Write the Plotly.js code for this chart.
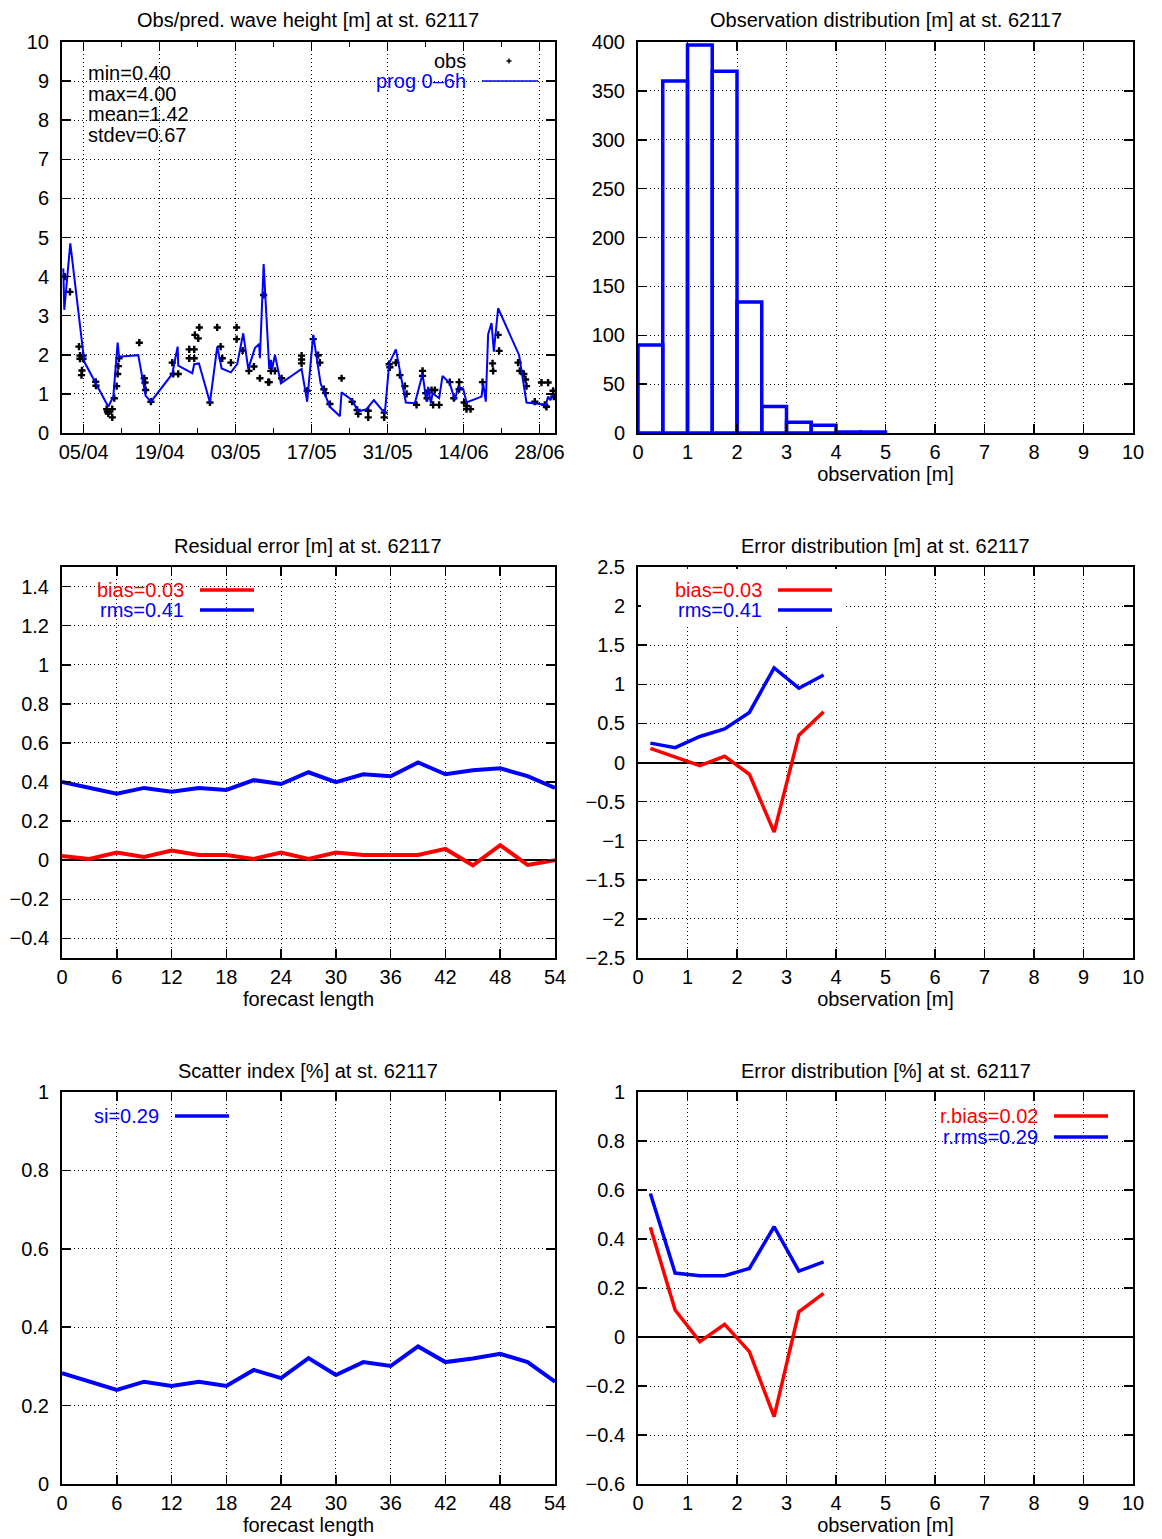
<!DOCTYPE html>
<html><head><meta charset="utf-8">
<script src="https://cdn.plot.ly/plotly-3.0.1.min.js"></script>
<style>html,body{margin:0;padding:0;background:#fff}#chart{width:1162px;height:1539px}</style>
</head><body><div id="chart"></div>
<script>
// ---------------- data ----------------
const station = "62117";
// time series: days since 01/04 00:00
const progDay = [0.24,0.42,1.53,4.11,8.53,9.45,10.26,10.5,14.05,15.41,16.39,20.31,21.31,21.42,24.0,24.36,25.23,27.26,28.6,29.41,31.12,32.28,33.39,34.31,35.54,36.33,36.46,37.15,38.18,38.49,38.7,39.23,40.33,44.14,45.17,46.28,47.64,49.36,51.2,51.51,53.46,54.57,56.11,57.46,59.48,60.28,61.51,63.35,65.01,66.43,67.16,67.46,67.96,68.27,69.48,70.11,71.45,72.38,72.98,73.9,74.53,77.29,77.59,78.08,78.51,79.14,79.56,80.35,84.22,85.58,88.03,89.13,89.56,90.0,90.6];
const progHs  = [4.21,3.15,4.85,1.82,0.67,0.93,2.31,1.95,1.99,0.95,0.80,1.51,2.21,1.72,1.53,1.76,1.78,0.78,2.21,1.65,1.55,1.76,2.55,1.64,2.17,2.28,1.91,4.32,1.64,1.87,1.62,2.0,1.27,1.64,0.80,2.51,1.27,0.67,0.43,1.04,0.84,0.55,0.61,0.84,0.50,1.78,2.14,0.78,0.76,1.51,0.80,1.18,0.76,1.02,0.89,1.46,1.27,0.84,1.18,1.14,0.78,0.93,1.27,0.80,2.53,2.81,2.08,3.19,1.99,0.78,0.74,0.72,0.93,0.84,1.02];
const obsDay = [0.5,1.47,3.13,3.31,3.31,3.87,3.87,3.68,3.59,6.21,6.26,8.23,8.53,8.38,9.26,9.26,9.63,10.07,10.26,10.37,10.5,14.24,15.16,15.29,15.41,16.39,20.31,20.5,21.42,23.44,24.36,23.44,24.36,24.49,25.1,25.29,27.26,28.6,29.23,29.52,31.12,32.17,32.17,33.28,34.44,35.36,36.46,37.15,37.99,38.18,38.49,39.23,40.46,44.14,44.14,44.14,45.17,46.28,47.2,47.51,48.25,48.56,49.36,51.51,53.46,54.38,54.57,56.41,56.41,59.36,59.36,60.28,60.41,61.51,62.25,63.17,63.48,65.32,66.43,66.43,67.03,67.27,68.08,68.69,68.38,69.48,71.45,72.19,73.17,73.17,74.09,74.53,75.27,74.53,77.48,79.32,79.43,80.35,80.53,84.03,84.35,85.08,85.4,85.58,87.11,88.34,89.56,88.95,89.26,90.48,90.61];
const obsHs  = [4.0,3.61,2.21,1.98,1.90,1.98,1.90,1.60,1.48,1.31,1.21,0.61,0.50,0.55,0.61,0.40,0.89,1.20,1.51,1.71,1.91,2.31,1.40,1.29,1.10,0.80,1.80,1.51,1.51,2.14,2.14,1.91,1.91,2.51,2.42,2.70,0.78,2.70,2.21,1.91,1.80,2.70,2.40,2.11,1.59,1.70,1.40,3.53,1.30,1.30,1.59,1.59,1.40,1.98,1.88,1.78,1.08,2.40,1.99,1.80,1.12,1.02,0.74,1.40,0.80,0.59,0.49,0.57,0.40,0.52,0.40,1.76,1.68,1.80,1.48,1.20,1.00,0.72,1.59,1.46,1.02,0.89,1.10,1.10,0.72,0.72,1.30,0.89,1.30,1.12,0.78,0.61,0.61,0.69,1.30,1.78,1.59,2.51,2.10,1.80,1.59,1.51,1.37,1.20,0.80,1.29,1.29,0.72,0.67,1.08,0.93];
const statLines = ["min=0.40","max=4.00","mean=1.42","stdev=0.67"];

// histogram
const histCenters = [0.25,0.75,1.25,1.75,2.25,2.75,3.25,3.75,4.25,4.75];
const histCounts  = [90,360,397,370,134,27,11,8,1,1];

// residual error vs forecast length
const fcLen   = [0,3,6,9,12,15,18,21,24,27,30,33,36,39,42,45,48,51,54];
const resBias = [0.022,0.007,0.04,0.017,0.05,0.027,0.027,0.007,0.04,0.007,0.04,0.027,0.027,0.027,0.058,-0.026,0.077,-0.024,0.0];
const resRms  = [0.40,0.37,0.34,0.37,0.35,0.37,0.36,0.41,0.39,0.45,0.40,0.44,0.43,0.50,0.44,0.46,0.47,0.43,0.37];
const scatterSi = [0.283,0.262,0.240,0.261,0.250,0.261,0.250,0.291,0.270,0.321,0.278,0.311,0.301,0.351,0.311,0.320,0.332,0.311,0.261];

// error distribution vs observation
const obsBins = [0.25,0.75,1.25,1.75,2.25,2.75,3.25,3.75];
const errBias = [0.18,0.07,-0.04,0.08,-0.15,-0.89,0.35,0.65];
const errRms  = [0.248,0.19,0.333,0.43,0.64,1.21,0.95,1.12];
const relBias = [0.448,0.11,-0.019,0.052,-0.06,-0.325,0.103,0.178];
const relRms  = [0.586,0.261,0.25,0.25,0.28,0.45,0.269,0.307];

const keyBiasM = "bias=0.03", keyRmsM = "rms=0.41", keySi = "si=0.29", keyRBias = "r.bias=0.02", keyRRms = "r.rms=0.29";

// ---------------- helpers ----------------
const W = 1162, H = 1539;
const F = "Liberation Sans, Arial, sans-serif";
const FS = 20;
const t0 = Date.UTC(2013, 3, 1);
const toDate = d => new Date(t0 + d * 86400000).toISOString().replace('T',' ').slice(0,19);
const px = v => v / W, py = v => 1 - v / H;

const box = {
  tl:[62,555,42,433], tr:[638,1133,42,433],
  ml:[62,555,567,958], mr:[638,1133,567,958],
  bl:[62,555,1092,1484], br:[638,1133,1092,1484]
};
const dom = b => ({x:[px(b[0]), px(b[1])], y:[py(b[3]), py(b[2])]});

const RED = "#ff0000", BLUE = "#0000ff";

function ax(extra) {
  return Object.assign({
    showline:true, linecolor:'black', linewidth:2, mirror:'allticks',
    ticks:'inside', ticklen:9, tickwidth:1.5, tickcolor:'black',
    showgrid:true, gridcolor:'#000', griddash:'1px,3px', gridwidth:1,
    zeroline:false, tickfont:{family:F, size:FS, color:'black'},
    fixedrange:true
  }, extra);
}
const yax = extra => ax(Object.assign({ticklabelstandoff:7}, extra));

const traces = [
  {x:obsDay.map(toDate), y:obsHs, xaxis:'x', yaxis:'y', type:'scatter', mode:'markers',
   marker:{symbol:'cross', size:6, color:'black', line:{width:0}}, name:'obs'},
  {x:progDay.map(toDate), y:progHs, xaxis:'x', yaxis:'y', type:'scatter', mode:'lines',
   line:{color:BLUE, width:2}, name:'prog 0–6h'},
  {x:histCenters, y:histCounts, xaxis:'x2', yaxis:'y2', type:'bar', width:0.5,
   marker:{color:'rgba(0,0,0,0)', line:{color:BLUE, width:3.5}}, name:'obs dist'},
  {x:fcLen, y:resBias, xaxis:'x3', yaxis:'y3', type:'scatter', mode:'lines', line:{color:RED, width:4}, name:'bias'},
  {x:fcLen, y:resRms, xaxis:'x3', yaxis:'y3', type:'scatter', mode:'lines', line:{color:BLUE, width:4}, name:'rms'},
  {x:obsBins, y:errBias, xaxis:'x4', yaxis:'y4', type:'scatter', mode:'lines', line:{color:RED, width:3.5}, name:'bias'},
  {x:obsBins, y:errRms, xaxis:'x4', yaxis:'y4', type:'scatter', mode:'lines', line:{color:BLUE, width:3.5}, name:'rms'},
  {x:fcLen, y:scatterSi, xaxis:'x5', yaxis:'y5', type:'scatter', mode:'lines', line:{color:BLUE, width:4}, name:'si'},
  {x:obsBins, y:relBias, xaxis:'x6', yaxis:'y6', type:'scatter', mode:'lines', line:{color:RED, width:3.5}, name:'r.bias'},
  {x:obsBins, y:relRms, xaxis:'x6', yaxis:'y6', type:'scatter', mode:'lines', line:{color:BLUE, width:3.5}, name:'r.rms'}
];

const ann = [], shapes = [];
function text(x, y, t, opts) {
  ann.push(Object.assign({xref:'paper', yref:'paper', x:px(x), y:py(y), text:t, showarrow:false,
    xanchor:'center', yanchor:'middle', font:{family:F, size:FS, color:'black'}}, opts || {}));
}
function key(xr, y, t, color, x0, x1, w) {
  text(xr, y, t, {xanchor:'right', font:{family:F, size:FS, color:color}});
  shapes.push({type:'line', xref:'paper', yref:'paper', x0:px(x0), x1:px(x1), y0:py(y), y1:py(y),
    line:{color:color, width:w}});
}
function keyBg(x0, x1, y0, y1) {
  shapes.push({type:'rect', xref:'paper', yref:'paper', x0:px(x0), x1:px(x1), y0:py(y1), y1:py(y0),
    fillcolor:'white', line:{width:0}, layer:'above'});
}

// panel titles
text(308, 20, "Obs/pred. wave height [m] at st. " + station);
text(886, 20, "Observation distribution [m] at st. " + station);
text(308, 546, "Residual error [m] at st. " + station);
text(886, 546, "Error distribution [m] at st. " + station);
text(308, 1071, "Scatter index [%] at st. " + station);
text(886, 1071, "Error distribution [%] at st. " + station);

// stats
statLines.forEach((s, i) => text(86, 73 + i * 20.7, s, {xanchor:'left'}));

// top-left key
text(468, 61, "obs", {xanchor:'right'});
shapes.push({type:'line', xref:'paper', yref:'paper', x0:px(506.5), x1:px(511.5), y0:py(61), y1:py(61), line:{color:'black', width:1.5}});
shapes.push({type:'line', xref:'paper', yref:'paper', x0:px(509), x1:px(509), y0:py(58.5), y1:py(63.5), line:{color:'black', width:1.5}});
key(468, 81, "prog 0–6h", BLUE, 482, 538, 1.5);

// other keys
keyBg(641, 843, 569, 625);
key(186, 590, keyBiasM, RED, 200, 254, 3.5);
key(186, 610, keyRmsM, BLUE, 200, 254, 3.5);
key(764, 590, keyBiasM, RED, 778, 832, 3.5);
key(764, 610, keyRmsM, BLUE, 778, 832, 3.5);
key(161, 1116, keySi, BLUE, 175, 229, 3.5);
key(1040, 1116, keyRBias, RED, 1054, 1108, 3.5);
key(1040, 1137, keyRRms, BLUE, 1054, 1108, 3.5);

const axTitle = t => ({text:t, font:{family:F, size:FS, color:'black'}, standoff:0});
const zl = {zeroline:true, zerolinecolor:'black', zerolinewidth:2};

const layout = {
  width:W, height:H, margin:{l:0, r:0, t:0, b:0}, paper_bgcolor:'white', plot_bgcolor:'white',
  showlegend:false, font:{family:F, size:FS, color:'black'},
  xaxis: ax({domain:dom(box.tl).x, anchor:'y', type:'date', range:[toDate(0), toDate(90.83)],
    tickformat:'%d/%m', dtick:14*86400000, tick0:'2013-04-05',
    minor:{dtick:7*86400000, tick0:'2013-04-05', ticks:'inside', ticklen:5, tickcolor:'black', tickwidth:1.5, showgrid:false}}),
  yaxis: yax({domain:dom(box.tl).y, anchor:'x', range:[0,10], dtick:1}),
  xaxis2: ax({domain:dom(box.tr).x, anchor:'y2', range:[0,10], dtick:1, title:axTitle("observation [m]")}),
  yaxis2: yax({domain:dom(box.tr).y, anchor:'x2', range:[0,400], dtick:50}),
  xaxis3: ax({domain:dom(box.ml).x, anchor:'y3', range:[0,54], dtick:6, title:axTitle("forecast length")}),
  yaxis3: yax(Object.assign({domain:dom(box.ml).y, anchor:'x3', range:[-0.5,1.5], dtick:0.2, tick0:0}, zl)),
  xaxis4: ax({domain:dom(box.mr).x, anchor:'y4', range:[0,10], dtick:1, title:axTitle("observation [m]")}),
  yaxis4: yax(Object.assign({domain:dom(box.mr).y, anchor:'x4', range:[-2.5,2.5], dtick:0.5}, zl)),
  xaxis5: ax({domain:dom(box.bl).x, anchor:'y5', range:[0,54], dtick:6, title:axTitle("forecast length")}),
  yaxis5: yax({domain:dom(box.bl).y, anchor:'x5', range:[0,1], dtick:0.2}),
  xaxis6: ax({domain:dom(box.br).x, anchor:'y6', range:[0,10], dtick:1, title:axTitle("observation [m]")}),
  yaxis6: yax(Object.assign({domain:dom(box.br).y, anchor:'x6', range:[-0.6,1.0], dtick:0.2, tick0:0}, zl)),
  annotations: ann, shapes: shapes
};

Plotly.newPlot('chart', traces, layout, {displayModeBar:false, staticPlot:true});
</script></body></html>
